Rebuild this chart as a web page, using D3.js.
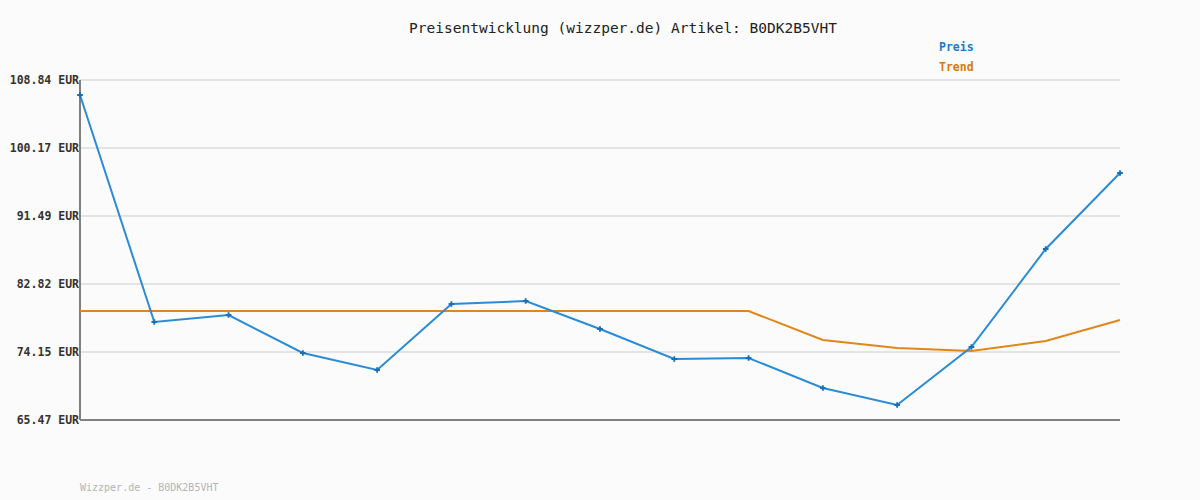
<!DOCTYPE html>
<html>
<head>
<meta charset="utf-8">
<script src="https://cdn.jsdelivr.net/npm/d3@7"></script>
<style>
    body { margin: 0; background: #fbfbfb; }
    svg { display: block; font-family: "DejaVu Sans Mono", monospace; }
</style>
</head>
<body>
<div id="chart"></div>
<script>
// values
var preis = [106.93, 77.97, 78.86, 74.02, 71.85, 80.27, 80.65, 77.08, 73.25, 73.38, 69.55, 67.38, 74.78, 87.28, 96.98];
var trend = [79.37, 79.37, 79.37, 79.37, 79.37, 79.37, 79.37, 79.37, 79.37, 79.37, 75.67, 74.65, 74.27, 75.55, 78.23];
var yTicks = [65.47, 74.15, 82.82, 91.49, 100.17, 108.84];
var artikel = "B0DK2B5VHT";

var margin = { top: 80, right: 80, bottom: 80, left: 80 },
    width = 1200 - margin.left - margin.right,
    height = 500 - margin.top - margin.bottom;

var svg = d3.select("#chart")
    .append("svg")
    .attr("width", 1200)
    .attr("height", 500);

svg.append("rect")
    .attr("width", 1200)
    .attr("height", 500)
    .attr("fill", "#fbfbfb");

var g = svg.append("g")
    .attr("transform", "translate(" + margin.left + "," + margin.top + ")");

var x = d3.scaleLinear()
    .domain([0, preis.length - 1])
    .range([0, width]);

var y = d3.scaleLinear()
    .domain([yTicks[0], yTicks[yTicks.length - 1]])
    .range([height, 0]);

// grid
g.selectAll(".grid")
    .data(yTicks)
    .enter()
    .append("line")
    .attr("x1", 0)
    .attr("x2", width)
    .attr("y1", d => y(d))
    .attr("y2", d => y(d))
    .attr("stroke", "#e4e4e4")
    .attr("stroke-width", 2);

// y labels
g.selectAll(".ylab")
    .data(yTicks)
    .enter()
    .append("text")
    .attr("x", -1)
    .attr("y", d => y(d) + 4)
    .attr("text-anchor", "end")
    .attr("font-size", 11.5)
    .attr("font-weight", "bold")
    .attr("fill", "#333")
    .text(d => d.toFixed(2) + " EUR");

// axes
g.append("line")
    .attr("x1", 0).attr("x2", 0)
    .attr("y1", 0).attr("y2", height)
    .attr("stroke", "#808080").attr("stroke-width", 2);
g.append("line")
    .attr("x1", 0).attr("x2", width)
    .attr("y1", height).attr("y2", height)
    .attr("stroke", "#808080").attr("stroke-width", 2);

var line = d3.line()
    .x((d, i) => x(i))
    .y(d => y(d));

g.append("path")
    .datum(trend)
    .attr("d", line)
    .attr("fill", "none")
    .attr("stroke", "#e0861a")
    .attr("stroke-width", 2);

g.append("path")
    .datum(preis)
    .attr("d", line)
    .attr("fill", "none")
    .attr("stroke", "#2a8bd6")
    .attr("stroke-width", 2);

// markers
var plus = d3.symbol().type(d3.symbolCross).size(18);
g.selectAll(".pt")
    .data(preis)
    .enter()
    .append("path")
    .attr("d", plus)
    .attr("transform", (d, i) => "translate(" + x(i) + "," + y(d) + ")")
    .attr("fill", "#1a6fb5");

// title
svg.append("text")
    .attr("x", 623)
    .attr("y", 33)
    .attr("text-anchor", "middle")
    .attr("font-size", 14.5)
    .attr("fill", "#222")
    .text("Preisentwicklung (wizzper.de) Artikel: " + artikel);

// legend
svg.append("text")
    .attr("x", 939).attr("y", 51)
    .attr("font-size", 11.5).attr("font-weight", "bold")
    .attr("fill", "#1a7ac6")
    .text("Preis");
svg.append("text")
    .attr("x", 939).attr("y", 71)
    .attr("font-size", 11.5).attr("font-weight", "bold")
    .attr("fill", "#d97a06")
    .text("Trend");

// footer
svg.append("text")
    .attr("x", 80).attr("y", 491)
    .attr("font-size", 10)
    .attr("fill", "#b4b4b4")
    .text("Wizzper.de - " + artikel);
</script>
</body>
</html>
